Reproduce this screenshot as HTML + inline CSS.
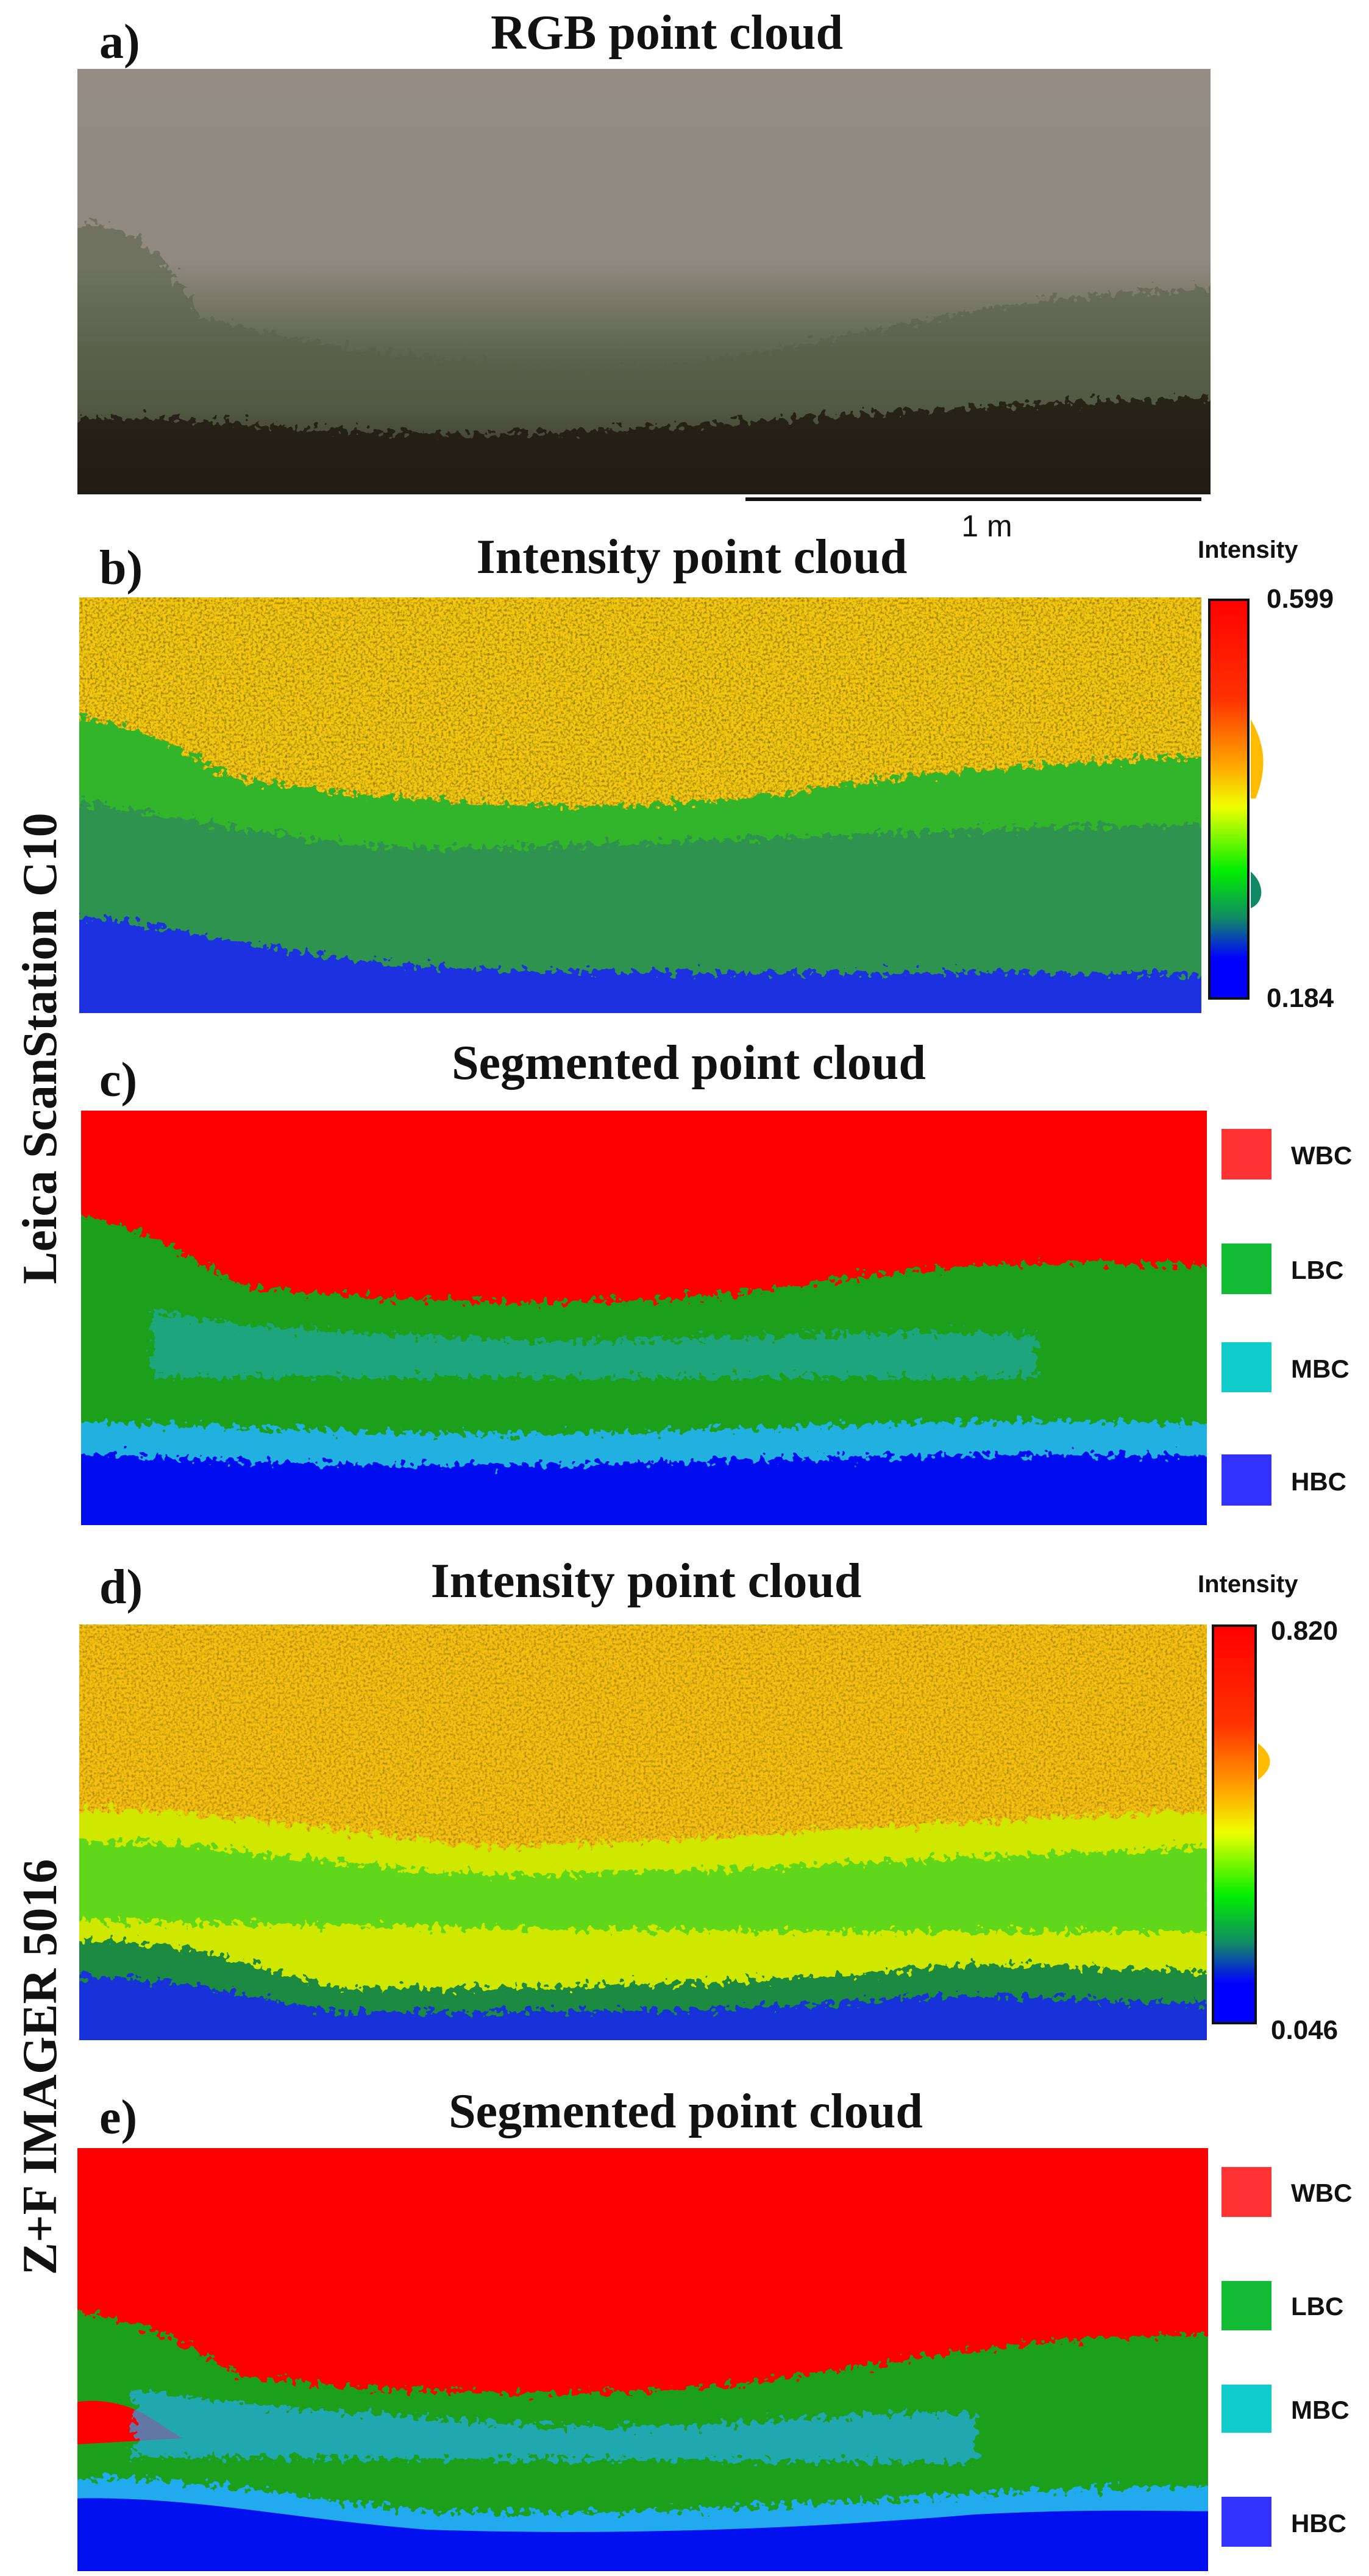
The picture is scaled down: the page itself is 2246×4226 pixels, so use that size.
<!DOCTYPE html>
<html><head><meta charset="utf-8"><style>
html,body{margin:0;padding:0;background:#fff;}
svg{display:block;}
.t{font-family:"Liberation Serif",serif;font-weight:bold;font-size:80px;fill:#111;}
.s{font-family:"Liberation Sans",sans-serif;font-weight:bold;fill:#111;}
</style></head><body>
<svg width="2246" height="4226" viewBox="0 0 2246 4226" xmlns="http://www.w3.org/2000/svg">
<defs>
<filter id="rough" x="-5%" y="-5%" width="110%" height="110%">
<feTurbulence type="fractalNoise" baseFrequency="0.09" numOctaves="2" seed="3" result="n"/>
<feDisplacementMap in="SourceGraphic" in2="n" scale="40" xChannelSelector="R" yChannelSelector="G"/>
</filter>
<filter id="noise" x="0" y="0" width="100%" height="100%">
<feTurbulence type="fractalNoise" baseFrequency="0.25" numOctaves="2" seed="7"/>
<feColorMatrix type="matrix" values="0 0 0 0 0  0 0 0 0 0  0 0 0 0 0  0 0 0 1.4 -0.6"/>
</filter>
<clipPath id="ca"><rect x="127" y="113" width="1859" height="698"/></clipPath>
<clipPath id="cb"><rect x="130" y="980" width="1841" height="682"/></clipPath>
<clipPath id="cc"><rect x="133" y="1822" width="1847" height="680"/></clipPath>
<clipPath id="cd"><rect x="130" y="2665" width="1850" height="682"/></clipPath>
<clipPath id="ce"><rect x="127" y="3524" width="1855" height="694"/></clipPath>
<linearGradient id="cbar" x1="0" y1="0" x2="0" y2="1">
<stop offset="0" stop-color="#ff0000"/><stop offset="0.25" stop-color="#ff3300"/>
<stop offset="0.42" stop-color="#ffaa00"/><stop offset="0.52" stop-color="#eeff00"/>
<stop offset="0.68" stop-color="#00ee00"/><stop offset="0.8" stop-color="#118866"/>
<stop offset="0.9" stop-color="#0000ff"/><stop offset="1" stop-color="#0000ff"/>
</linearGradient>
<linearGradient id="rgb" x1="0" y1="0" x2="0" y2="1">
<stop offset="0" stop-color="#948c82"/><stop offset="0.45" stop-color="#908a80"/>
<stop offset="0.65" stop-color="#606752"/><stop offset="0.8" stop-color="#4c4f3c"/>
<stop offset="0.9" stop-color="#2a1e18"/><stop offset="1" stop-color="#0e0a08"/>
</linearGradient>
</defs>

<!-- a -->
<text class="t" x="163" y="95" font-size="62">a)</text>
<text class="t" x="1094" y="80" text-anchor="middle" font-size="76">RGB point cloud</text>
<g clip-path="url(#ca)">
<rect x="127" y="113" width="1859" height="698" fill="url(#rgb)"/>
<path d="M80 380 C200 340 260 400 330 520 C500 560 800 620 1100 600 C1400 560 1600 480 2030 470 L2030 860 L80 860Z" fill="#56604a" opacity="0.55" filter="url(#rough)"/>
<path d="M80 690 C300 670 500 720 900 710 C1300 690 1600 660 2030 650 L2030 860 L80 860Z" fill="#1e1410" opacity="0.8" filter="url(#rough)"/>
</g>
<line x1="1223" y1="819" x2="1971" y2="819" stroke="#111" stroke-width="6"/>
<text class="s" x="1619" y="880" text-anchor="middle" font-size="50" style="font-weight:normal">1 m</text>

<!-- b -->
<text class="t" x="163" y="958" font-size="62">b)</text>
<text class="t" x="1135" y="940" text-anchor="middle" font-size="76">Intensity point cloud</text>
<text class="s" x="1965" y="915" font-size="40">Intensity</text>
<g clip-path="url(#cb)">
<rect x="130" y="980" width="1841" height="682" fill="#f5c810"/>
<rect x="130" y="980" width="1841" height="682" fill="#ff5000" filter="url(#noise)" opacity="0.7"/>
<path d="M80 1170 C250 1180 330 1260 400 1280 C700 1320 1000 1340 1300 1300 C1500 1270 1700 1250 2020 1240 L2020 1710 L80 1710Z" fill="#33b52a" filter="url(#rough)"/>
<path d="M80 1310 C300 1330 500 1400 800 1390 C1200 1380 1500 1360 2020 1350 L2020 1710 L80 1710Z" fill="#2f9350" filter="url(#rough)"/>
<path d="M80 1500 C300 1510 450 1580 800 1590 C1200 1600 1600 1590 2020 1600 L2020 1710 L80 1710Z" fill="#1a30e0" filter="url(#rough)"/>
</g>
<rect x="1984" y="984" width="64" height="654" fill="url(#cbar)" stroke="#111" stroke-width="4"/>
<path d="M2052 1180 C2075 1220 2080 1260 2060 1310 L2052 1310Z" fill="#ffbb00"/>
<path d="M2052 1430 C2075 1450 2075 1480 2052 1490Z" fill="#118866"/>
<text class="s" x="2078" y="997" font-size="44">0.599</text>
<text class="s" x="2078" y="1652" font-size="44">0.184</text>

<!-- c -->
<text class="t" x="163" y="1798" font-size="62">c)</text>
<text class="t" x="1130" y="1770" text-anchor="middle" font-size="76">Segmented point cloud</text>
<g clip-path="url(#cc)">
<rect x="133" y="1822" width="1847" height="680" fill="#ff0000"/>
<path d="M80 1990 C250 2000 330 2080 400 2110 C700 2140 1000 2150 1300 2110 C1500 2080 1700 2060 2030 2080 L2030 2550 L80 2550Z" fill="#1aa01a" filter="url(#rough)"/>
<path d="M250 2150 C400 2180 600 2190 900 2200 C1200 2200 1400 2180 1700 2190 L1700 2260 L250 2260Z" fill="#22aadd" opacity="0.5" filter="url(#rough)"/>
<path d="M80 2330 C400 2340 700 2360 1000 2350 C1400 2340 1700 2320 2030 2340 L2030 2550 L80 2550Z" fill="#20b0e0" filter="url(#rough)"/>
<path d="M80 2380 C400 2400 700 2410 1000 2400 C1400 2390 1700 2380 2030 2390 L2030 2550 L80 2550Z" fill="#0010ee" filter="url(#rough)"/>
</g>
<rect x="2004" y="1852" width="82" height="83" fill="#ff3333"/><text class="s" x="2118" y="1910" font-size="42">WBC</text>
<rect x="2004" y="2040" width="82" height="83" fill="#11bb33"/><text class="s" x="2118" y="2098" font-size="42">LBC</text>
<rect x="2004" y="2202" width="82" height="82" fill="#11cccc"/><text class="s" x="2118" y="2260" font-size="42">MBC</text>
<rect x="2004" y="2386" width="82" height="84" fill="#3333ff"/><text class="s" x="2118" y="2445" font-size="42">HBC</text>

<text class="t" transform="translate(92,1720) rotate(-90)" text-anchor="middle" font-size="84">Leica ScanStation C10</text>

<!-- d -->
<text class="t" x="163" y="2630" font-size="62">d)</text>
<text class="t" x="1060" y="2620" text-anchor="middle" font-size="76">Intensity point cloud</text>
<text class="s" x="1965" y="2612" font-size="40">Intensity</text>
<g clip-path="url(#cd)">
<rect x="130" y="2665" width="1850" height="682" fill="#f6c010"/>
<rect x="130" y="2665" width="1850" height="682" fill="#ff5500" filter="url(#noise)" opacity="0.55"/>
<path d="M80 2970 C300 2960 500 3000 800 3030 C1200 3020 1600 2980 2030 2970 L2030 3400 L80 3400Z" fill="#d0e800" filter="url(#rough)"/>
<path d="M80 3020 C300 3010 500 3060 800 3075 C1200 3075 1600 3040 2030 3030 L2030 3170 C1500 3170 1000 3170 80 3150Z" fill="#44d420" opacity="0.8" filter="url(#rough)"/>
<path d="M80 3185 C300 3170 420 3230 550 3260 C900 3265 1300 3250 1500 3230 C1700 3210 1850 3240 2030 3230 L2030 3400 L80 3400Z" fill="#1a8a40" filter="url(#rough)"/>
<path d="M80 3240 C300 3240 420 3280 550 3300 C900 3300 1300 3300 1500 3275 C1700 3270 1850 3290 2030 3285 L2030 3400 L80 3400Z" fill="#1530d8" filter="url(#rough)"/>
</g>
<rect x="1990" y="2667" width="70" height="652" fill="url(#cbar)" stroke="#111" stroke-width="4"/>
<path d="M2064 2860 C2090 2880 2090 2900 2064 2920Z" fill="#ffbb00"/>
<text class="s" x="2085" y="2690" font-size="44">0.820</text>
<text class="s" x="2085" y="3345" font-size="44">0.046</text>

<!-- e -->
<text class="t" x="163" y="3500" font-size="62">e)</text>
<text class="t" x="1125" y="3490" text-anchor="middle" font-size="76">Segmented point cloud</text>
<g clip-path="url(#ce)">
<rect x="127" y="3524" width="1855" height="694" fill="#ff0000"/>
<path d="M80 3790 C250 3800 330 3860 400 3900 C700 3930 1000 3940 1300 3900 C1500 3870 1700 3830 2030 3830 L2030 4260 L80 4260Z" fill="#1aa01a" filter="url(#rough)"/>
<path d="M127 3940 C220 3930 260 3980 300 4000 L127 4010Z" fill="#ff0000"/>
<path d="M220 3920 C400 3950 600 3960 900 3980 C1200 3990 1400 3950 1600 3960 L1600 4040 L220 4030Z" fill="#22aaee" opacity="0.7" filter="url(#rough)"/>
<path d="M80 4070 C300 4050 450 4100 700 4120 C1000 4130 1300 4110 1600 4090 C1800 4080 1900 4080 2030 4080 L2030 4260 L80 4260Z" fill="#22aaee" filter="url(#rough)"/>
<path d="M80 4100 C300 4090 450 4130 700 4150 C1000 4160 1300 4150 1600 4125 C1800 4115 1900 4120 2030 4120 L2030 4260 L80 4260Z" fill="#0010ee"/>
</g>
<rect x="2004" y="3555" width="82" height="82" fill="#ff3333"/><text class="s" x="2118" y="3612" font-size="42">WBC</text>
<rect x="2004" y="3742" width="82" height="81" fill="#11bb33"/><text class="s" x="2118" y="3798" font-size="42">LBC</text>
<rect x="2004" y="3912" width="82" height="79" fill="#11cccc"/><text class="s" x="2118" y="3968" font-size="42">MBC</text>
<rect x="2004" y="4096" width="82" height="82" fill="#3333ff"/><text class="s" x="2118" y="4154" font-size="42">HBC</text>

<text class="t" transform="translate(92,3391) rotate(-90)" text-anchor="middle" font-size="84">Z+F IMAGER 5016</text>
</svg>
</body></html>
